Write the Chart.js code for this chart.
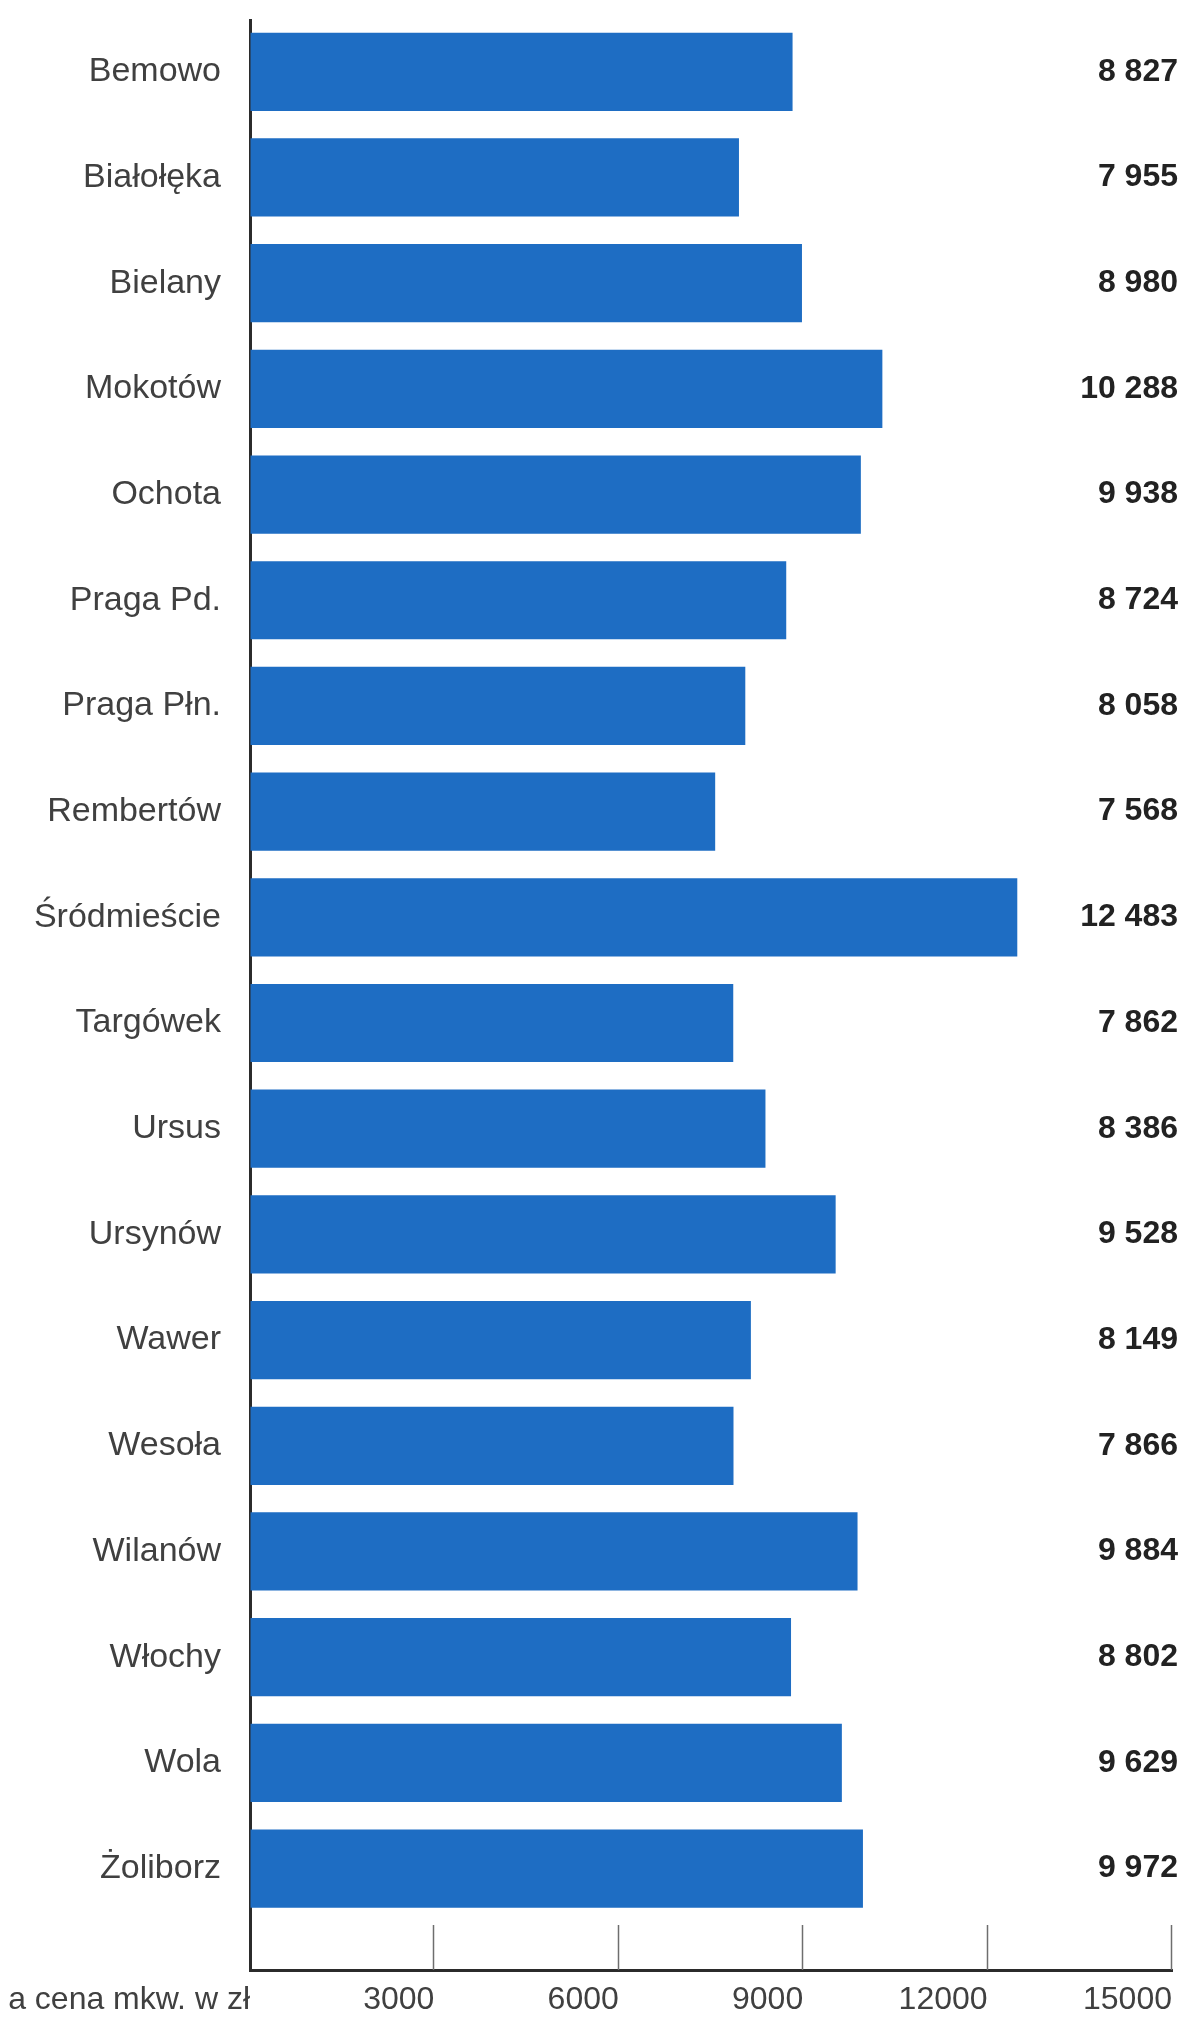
<!DOCTYPE html>
<html lang="pl">
<head>
<meta charset="utf-8">
<title>Średnia cena mkw. w zł</title>
<script src="https://cdn.jsdelivr.net/npm/chart.js@4.4.1/dist/chart.umd.min.js"></script>
<style>
  html, body { margin: 0; padding: 0; background: #ffffff; }
  #wrap { width: 1185px; height: 2017px; position: relative; }
</style>
</head>
<body>
<div id="wrap"><canvas id="wykres"></canvas></div>
<script>
// dane
const dzielnice = ['Bemowo', 'Białołęka', 'Bielany', 'Mokotów', 'Ochota', 'Praga Pd.', 'Praga Płn.', 'Rembertów', 'Śródmieście', 'Targówek', 'Ursus', 'Ursynów', 'Wawer', 'Wesoła', 'Wilanów', 'Włochy', 'Wola', 'Żoliborz'];
const ceny = [8827, 7955, 8980, 10288, 9938, 8724, 8058, 7568, 12483, 7862, 8386, 9528, 8149, 7866, 9884, 8802, 9629, 9972];
const podzialkaX = [0, 3000, 6000, 9000, 12000, 15000];
const opisOsi = 'a cena mkw. w zł';

const fontRodzina = "'Liberation Sans', Arial, Helvetica, sans-serif";

// 8827 -> "8 827"
function formatuj(v) {
    return String(v).replace(/\B(?=(\d{3})+(?!\d))/g, ' ');
}

// krótkie kreski podziałki nad osią X
const kreskiOsi = {
    id: 'kreskiOsi',
    afterDatasetsDraw(chart) {
        const { ctx, chartArea, scales } = chart;
        ctx.save();
        ctx.strokeStyle = '#6e6e6e';
        ctx.lineWidth = 1.5;
        scales.x.ticks.forEach(t => {
            if (t.value === 0) return;
            const x = Math.round(scales.x.getPixelForValue(t.value)) - 0.5;
            ctx.beginPath();
            ctx.moveTo(x, chartArea.bottom);
            ctx.lineTo(x, chartArea.bottom - 45);
            ctx.stroke();
        });
        ctx.restore();
    }
};

// każda oś dostaje własne obiekty podziałki
const podzialkaY = () => dzielnice.map((d, i) => ({ value: i }));
const bezMarginesu = s => { s.paddingTop = 0; s.paddingBottom = 0; };

new Chart(document.getElementById('wykres'), {
    type: 'bar',
    data: {
        datasets: [{
            label: 'Cena mkw. w zł',
            data: ceny.map((v, i) => ({ x: v, y: i })),
            backgroundColor: '#1e6dc3',
            borderWidth: 0,
            categoryPercentage: 1,
            barPercentage: 0.74
        }]
    },
    options: {
        indexAxis: 'y',
        responsive: true,
        maintainAspectRatio: false,
        animation: false,
        layout: { padding: { top: 20, left: 0, right: 0, bottom: 0 } },
        plugins: {
            legend: { display: false },
            tooltip: { enabled: false }
        },
        scales: {
            x: {
                type: 'linear',
                min: 0,
                max: 15000,
                bounds: 'data',
                afterBuildTicks: s => { s.ticks = podzialkaX.map(v => ({ value: v })); },
                afterFit: s => { s.height = 47; s.paddingLeft = 0; s.paddingRight = 0; },
                grid: { drawOnChartArea: false, drawTicks: false },
                border: { display: true, color: '#2b2b2b', width: 3 },
                ticks: {
                    autoSkip: false,
                    maxRotation: 0,
                    align: 'end',
                    padding: 11,
                    color: '#404040',
                    font: { family: fontRodzina, size: 32 },
                    callback: v => v === 0 ? opisOsi : String(v)
                }
            },
            y: {
                type: 'linear',
                position: 'left',
                reverse: true,
                offset: false,
                bounds: 'data',
                min: -0.49,
                max: 17.96,
                afterBuildTicks: s => { s.ticks = podzialkaY(); },
                afterFit: s => { s.width = 250; bezMarginesu(s); },
                grid: { display: false, drawTicks: false, offset: false },
                border: { display: true, color: '#2b2b2b', width: 3 },
                ticks: {
                    autoSkip: false,
                    padding: 29,
                    color: '#404040',
                    font: { family: fontRodzina, size: 34 },
                    callback: v => dzielnice[v]
                }
            },
            y2: {
                type: 'linear',
                position: 'right',
                reverse: true,
                offset: false,
                bounds: 'data',
                min: -0.49,
                max: 17.96,
                afterBuildTicks: s => { s.ticks = podzialkaY(); },
                afterFit: s => { s.width = 13; bezMarginesu(s); },
                grid: { display: false, drawTicks: false, offset: false },
                border: { display: false },
                ticks: {
                    autoSkip: false,
                    mirror: true,
                    crossAlign: 'near',
                    padding: 6,
                    color: '#222222',
                    font: { family: fontRodzina, size: 32, weight: 'bold' },
                    callback: v => formatuj(ceny[v])
                }
            }
        }
    },
    plugins: [kreskiOsi]
});
</script>
</body>
</html>
